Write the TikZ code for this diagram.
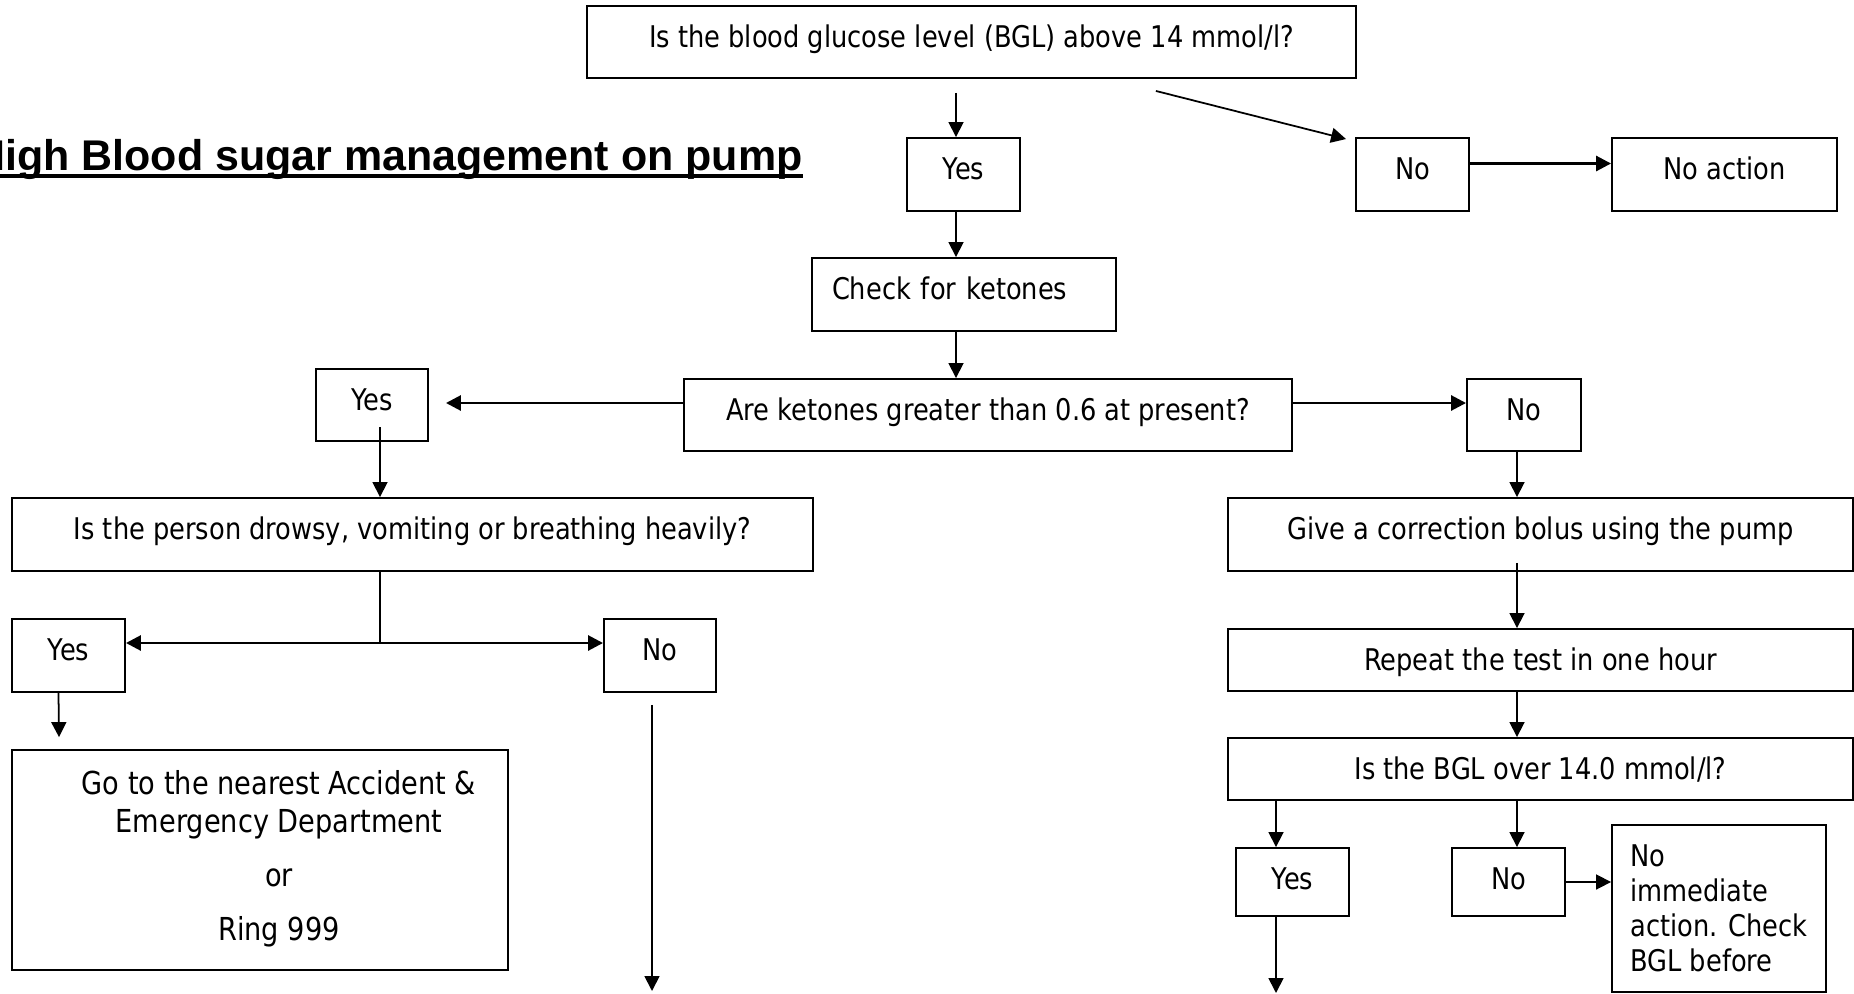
\documentclass[tikz,border=0pt]{standalone}
\usepackage{fontspec}
\setmainfont{DejaVu Sans}[FakeStretch=0.86]
\newfontfamily\titlefont{Liberation Sans}
\usetikzlibrary{
		arrows.meta,
		calc,
		positioning
	}
\tikzset{
		>={Triangle[length=8.5pt,width=8.5pt]},
		box/.style={draw, line width=1.1pt, text height=0.46cm, text depth=0.26cm},
		flatbox/.style={draw, line width=1.1pt, text height=0.46cm, text depth=0.06cm},
		flow/.style={line width=1pt},
		heavy/.style={line width=1.6pt}
	}

\begin{document}
\begin{tikzpicture}[x=0.02cm, y=-0.02cm, font=\fontsize{17}{21.6}\selectfont]
              \useasboundingbox (0,0) rectangle (1854,994);

              % the title
              \node[anchor=base west, inner sep=0pt, font=\titlefont\bfseries\fontsize{24.45}{29}\selectfont] (title) at (-26,170) {High Blood sugar management on pump};
              \draw[line width=0.08cm] ($(title.base west)+(0,6)$) -- ($(title.base east)+(0,6)$);

              % the first question and its answers
              \node[box, minimum width=15.38cm, minimum height=1.44cm] (bgl) at (971.5,42) {Is the blood glucose level (BGL) above 14 mmol/l?};
              \node[box, minimum width=2.26cm, minimum height=1.46cm] (yes1) at (963.5,174.5) {Yes};
              \node[box, minimum width=2.26cm, minimum height=1.46cm] (no1) at (1412.5,174.5) {No};
              \node[box, minimum width=4.5cm, minimum height=1.46cm] (noact) at (1724.5,174.5) {No action};
              \node[box, minimum height=1.46cm, text width=5.28cm, align=left, inner xsep=0.4cm] (check) at (964,294.5) {Check for ketones};

              % the ketone question
              \node[box, minimum width=12.16cm, minimum height=1.44cm] (keto) at (988,415) {Are ketones greater than 0.6 at present?};
              \node[box, minimum width=2.24cm, minimum height=1.44cm] (yes2) at (372,405) {Yes};
              \node[box, minimum width=2.28cm, minimum height=1.44cm] (no2) at (1524,415) {No};

              % the left branch
              \node[box, minimum width=16.02cm, minimum height=1.46cm] (drowsy) at (412.5,534.5) {Is the person drowsy, vomiting or breathing heavily?};
              \node[box, minimum width=2.26cm, minimum height=1.46cm] (yes3) at (68.5,655.5) {Yes};
              \node[box, minimum width=2.24cm, minimum height=1.46cm] (no3) at (660,655.5) {No};
              \node[draw, line width=1.1pt, minimum width=9.92cm, minimum height=4.4cm, font=\fontsize{18}{21.6}\selectfont] (ae) at (260,860) {\hspace*{0.76cm}\begin{tabular}{@{}c@{}}Go to the nearest Accident \&\\Emergency Department\\[0.32cm]or\\[0.32cm]Ring 999\end{tabular}};

              % the right branch
              \node[box, minimum width=12.5cm, minimum height=1.46cm] (bolus) at (1540.5,534.5) {Give a correction bolus using the pump};
              \node[flatbox, minimum width=12.5cm, minimum height=1.24cm] (repeat) at (1540.5,660) {Repeat the test in one hour};
              \node[flatbox, minimum width=12.5cm, minimum height=1.24cm] (bglover) at (1540.5,769) {Is the BGL over 14.0 mmol/l?};
              \node[box, text depth=0.16cm, minimum width=2.26cm, minimum height=1.36cm] (yes4) at (1292.5,882) {Yes};
              \node[box, text depth=0.16cm, minimum width=2.26cm, minimum height=1.36cm] (no4) at (1508.5,882) {No};
              \node[draw, line width=1.1pt, align=left, minimum width=4.28cm, minimum height=3.34cm, font=\fontsize{17}{19.9}\selectfont] (noimm) at (1719,908.5) {No\\immediate\\action. Check\\BGL before};

              % points the arrows run along
              \coordinate (spine) at (956,0);
              \coordinate (drop) at ($(yes2.center)+(8,22)$);
              \coordinate (split) at (380,643);
              \coordinate (noend) at (652,991);
              \coordinate (rspine) at (1517,0);
              \coordinate (yesend) at (1276,993);

              % draw the arrows
              \draw[flow,->] ($(bgl.south -| spine)+(0,14)$) -- (yes1.north -| spine);
              \draw[flow,->] ($(bgl.south east)+(-201,12)$) -- ($(no1.north west)+(-9,2)$);
              \draw[heavy,->] ($(no1.east)+(0,-11)$) -- ($(noact.west)+(0,-11)$);
              \draw[flow,->] (yes1.south -| spine) -- (check.north -| spine);
              \draw[flow,->] (check.south -| spine) -- (keto.north -| spine);
              \draw[heavy,->] ($(keto.west)+(0,-12)$) -- ($(yes2.east)+(17,-2)$);
              \draw[heavy,->] ($(keto.east)+(0,-12)$) -- ($(no2.west)+(0,-12)$);

              \draw[flow,->] (drop) -- (drop |- drowsy.north);
              \draw[heavy] (drowsy.south -| split) -- (split);
              \draw[heavy,->] (split) -- (split -| yes3.east);
              \draw[heavy,->] (split) -- (split -| no3.west);
              \draw[flow,->] ($(yes3.south)+(-10,0)$) -- ($(ae.north)+(-201,-12)$);
              \draw[flow,->] ($(no3.south)+(-8,12)$) -- (noend);

              \draw[flow,->] (no2.south -| rspine) -- (bolus.north -| rspine);
              \draw[flow,->] ($(bolus.south -| rspine)+(0,-9)$) -- (repeat.north -| rspine);
              \draw[flow,->] (repeat.south -| rspine) -- (bglover.north -| rspine);
              \draw[flow,->] (bglover.south -| rspine) -- (no4.north -| rspine);
              \draw[flow,->] (bglover.south -| yesend) -- (yes4.north -| yesend);
              \draw[flow,->] (yes4.south -| yesend) -- (yesend);
              \draw[flow,->] (no4.east) -- (no4.east -| noimm.west);

          \end{tikzpicture}
\end{document}
